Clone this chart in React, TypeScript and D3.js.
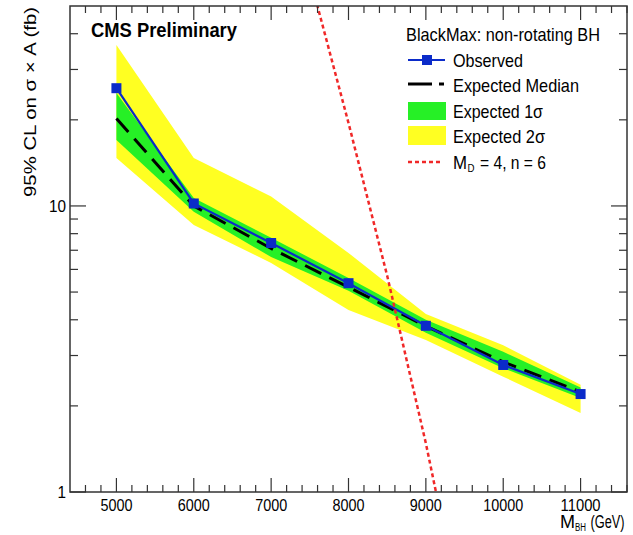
import React from "react";
import * as d3 from "d3";

// ---- data ----
const masses = [5000, 6000, 7000, 8000, 9000, 10000, 11000];
const observed = [25.8, 10.2, 7.42, 5.37, 3.81, 2.78, 2.2];
const expectedMedian = [20.2, 10.0, 7.1, 5.2, 3.8, 2.85, 2.24];
const exp1Lo = [17.0, 9.55, 6.63, 5.05, 3.6, 2.71, 2.13];
const exp1Hi = [24.8, 10.65, 7.74, 5.6, 4.0, 3.09, 2.32];
const exp2Lo = [14.7, 8.58, 6.32, 4.33, 3.4, 2.53, 1.89];
const exp2Hi = [36.5, 14.7, 10.8, 6.85, 4.19, 3.26, 2.37];
const theoryMass = [7500, 8000, 8500, 9000, 9500];
const theoryXsec = [63, 19.5, 5.7, 1.48, 0.33];
const xTickLabels = ["5000", "6000", "7000", "8000", "9000", "10000", "11000"];
const yTickLabels = ["1", "10"];

const W = 633;
const H = 535;
const L = 70, R = 627, T = 6, B = 492;

const x = d3.scaleLinear().domain([4400, 11600]).range([L, R]);
const y = d3.scaleLog().domain([1, 50]).range([B, T]);

const FONT = "'Liberation Sans', Arial, Helvetica, sans-serif";

function Txt(props: any) {
  const { x: tx, y: ty, w, size, weight, anchor, children, fill } = props;
  let x0 = tx;
  if (anchor === "middle") x0 = tx - w / 2;
  if (anchor === "end") x0 = tx - w;
  return (
    <text
      x={x0}
      y={ty}
      fontSize={size}
      fontWeight={weight || "normal"}
      fontFamily={FONT}
      textLength={w}
      lengthAdjust="spacingAndGlyphs"
      fill={fill || "#000"}
    >
      {children}
    </text>
  );
}

export default function App() {
  const idx = masses.map((_, i) => i);
  const band = (lo: number[], hi: number[]) =>
    d3
      .area<number>()
      .x((i) => x(masses[i]))
      .y0((i) => y(lo[i]))
      .y1((i) => y(hi[i]))(idx) as string;
  const line = (vals: number[], ms: number[]) =>
    d3
      .line<number>()
      .x((i) => x(ms[i]))
      .y((i) => y(vals[i]))(vals.map((_, i) => i)) as string;

  const xMajor = d3.range(5000, 11001, 1000);
  const xMinor = d3.range(4600, 11601, 200).filter((v) => v % 1000 !== 0);
  const yMajor = [1, 10];
  const yMinor = [2, 3, 4, 5, 6, 7, 8, 9, 20, 30, 40];

  const blue = "#0b2bc9";

  return (
    <svg
      width={W}
      height={H}
      style={{ position: "absolute", left: 0, top: 0, background: "#fff" }}
    >
      <defs>
        <clipPath id="plotclip">
          <rect x={L} y={T} width={R - L} height={B - T} />
        </clipPath>
      </defs>
      <rect x={0} y={0} width={W} height={H} fill="#fff" />
      <g clipPath="url(#plotclip)">
        <path d={band(exp2Lo, exp2Hi)} fill="#ffff22" />
        <path d={band(exp1Lo, exp1Hi)} fill="#26f026" />
        <path
          d={line(expectedMedian, masses)}
          fill="none"
          stroke="#000"
          strokeWidth={3}
          strokeDasharray="18 9"
        />
        <path d={line(observed, masses)} fill="none" stroke={blue} strokeWidth={2.2} />
        {masses.map((m, i) => (
          <rect
            key={m}
            x={x(m) - 5}
            y={y(observed[i]) - 5}
            width={10}
            height={10}
            fill={blue}
          />
        ))}
        <path
          d={line(theoryXsec, theoryMass)}
          fill="none"
          stroke="#f02828"
          strokeWidth={2.5}
          strokeDasharray="4 3"
        />
      </g>

      {/* frame */}
      <rect x={L} y={T} width={R - L} height={B - T} fill="none" stroke="#333" strokeWidth={1.5} />

      {/* x ticks bottom & top */}
      {xMajor.map((v) => (
        <g key={"xM" + v}>
          <line x1={x(v)} x2={x(v)} y1={B} y2={B - 14} stroke="#333" strokeWidth={1.2} />
          <line x1={x(v)} x2={x(v)} y1={T} y2={T + 14} stroke="#333" strokeWidth={1.2} />
        </g>
      ))}
      {xMinor.map((v) => (
        <g key={"xm" + v}>
          <line x1={x(v)} x2={x(v)} y1={B} y2={B - 7} stroke="#333" strokeWidth={1.2} />
          <line x1={x(v)} x2={x(v)} y1={T} y2={T + 7} stroke="#333" strokeWidth={1.2} />
        </g>
      ))}
      {/* y ticks left & right */}
      {yMajor.map((v) => (
        <g key={"yM" + v}>
          <line x1={L} x2={L + 16} y1={y(v)} y2={y(v)} stroke="#333" strokeWidth={1.2} />
          <line x1={R} x2={R - 16} y1={y(v)} y2={y(v)} stroke="#333" strokeWidth={1.2} />
        </g>
      ))}
      {yMinor.map((v) => (
        <g key={"ym" + v}>
          <line x1={L} x2={L + 8} y1={y(v)} y2={y(v)} stroke="#333" strokeWidth={1.2} />
          <line x1={R} x2={R - 8} y1={y(v)} y2={y(v)} stroke="#333" strokeWidth={1.2} />
        </g>
      ))}

      {/* x tick labels */}
      {xMajor.map((v, i) => (
        <Txt
          key={"xl" + v}
          x={x(v)}
          y={511}
          w={xTickLabels[i].length * 8}
          size={16}
          anchor="middle"
        >
          {xTickLabels[i]}
        </Txt>
      ))}
      {/* y tick labels */}
      {yMajor.map((v, i) => (
        <Txt
          key={"yl" + v}
          x={66}
          y={y(v) + 6}
          w={yTickLabels[i].length * 8.5}
          size={17}
          anchor="end"
        >
          {yTickLabels[i]}
        </Txt>
      ))}

      {/* axis titles */}
      <g transform="translate(36,102) rotate(-90)">
        <Txt x={0} y={0} w={190} size={17} anchor="middle">
          95% CL on σ × A (fb)
        </Txt>
      </g>
      <Txt x={560} y={528} w={15} size={18}>M</Txt>
      <Txt x={575} y={530.5} w={11} size={10}>BH</Txt>
      <g transform="translate(590.5,528) scale(0.73,1)">
        <text x={0} y={0} fontSize={17.5} fontFamily={FONT} fill="#000">
          (GeV)
        </text>
      </g>

      {/* CMS label */}
      <Txt x={91} y={37} w={146} size={21} weight="bold">
        CMS Preliminary
      </Txt>

      {/* legend */}
      <Txt x={406} y={41} w={194} size={19}>
        BlackMax: non-rotating BH
      </Txt>
      {/* observed */}
      <line x1={408} x2={445} y1={60} y2={60} stroke={blue} strokeWidth={2.2} />
      <rect x={422} y={55} width={10} height={10} fill={blue} />
      <Txt x={453} y={66.5} w={70} size={19}>
        Observed
      </Txt>
      {/* expected median */}
      <line x1={408} x2={432} y1={84} y2={84} stroke="#000" strokeWidth={3} />
      <line x1={439} x2={444} y1={84} y2={84} stroke="#000" strokeWidth={3} />
      <Txt x={453} y={91.5} w={126} size={19}>
        Expected Median
      </Txt>
      <rect x={408} y={102} width={38} height={18} fill="#26f026" />
      <Txt x={453} y={117.5} w={90} size={19}>
        Expected 1σ
      </Txt>
      <rect x={408} y={126} width={38} height={19} fill="#ffff22" />
      <Txt x={453} y={143} w={92} size={19}>
        Expected 2σ
      </Txt>
      <line
        x1={408}
        x2={443}
        y1={162}
        y2={162}
        stroke="#f02828"
        strokeWidth={2.5}
        strokeDasharray="4 3"
      />
      <Txt x={453} y={168.5} w={14} size={19}>M</Txt>
      <Txt x={467.5} y={171.5} w={7} size={11}>D</Txt>
      <Txt x={480} y={168.5} w={66} size={19}>= 4, n = 6</Txt>
    </svg>
  );
}
